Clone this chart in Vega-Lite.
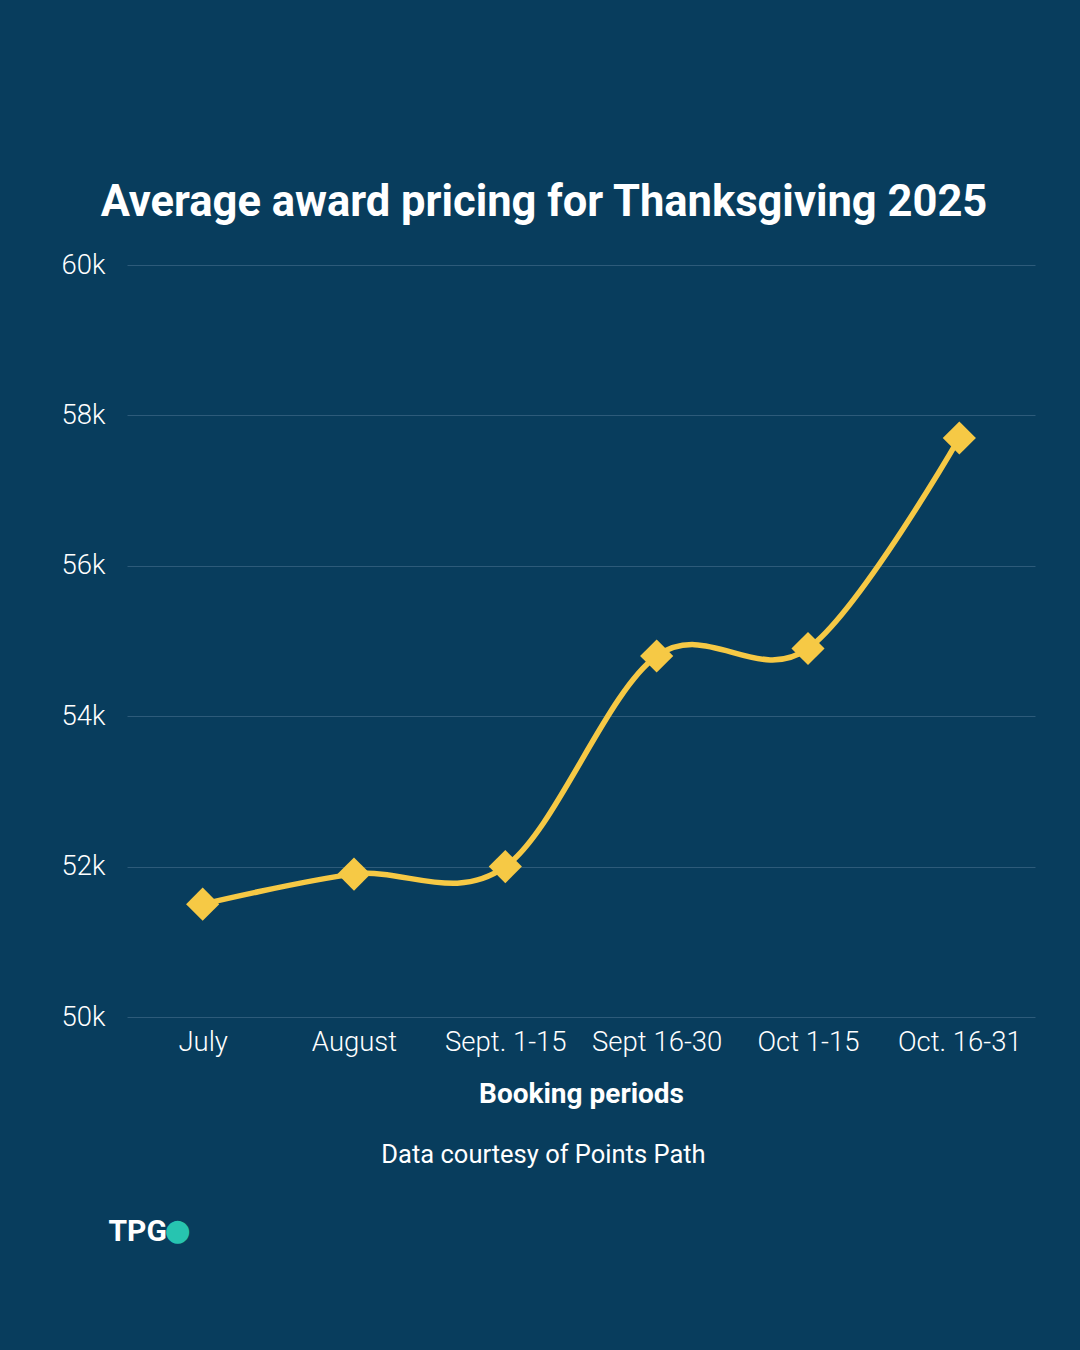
{
  "$schema": "https://vega.github.io/schema/vega-lite/v6.json",
  "autosize": "none",
  "width": 908,
  "height": 752,
  "padding": {"left": 127, "top": 265, "right": 45, "bottom": 333},
  "background": "#083d5d",
  "title": {
    "text": "Average award pricing for Thanksgiving 2025",
    "anchor": "middle",
    "dx": -37,
    "offset": 26,
    "fontSize": 43.5,
    "fontWeight": "bold",
    "font": "Roboto",
    "color": "#ffffff"
  },
  "data": {
    "values": [
      {"period": "July", "points": 51500},
      {"period": "August", "points": 51900},
      {"period": "Sept. 1-15", "points": 52000},
      {"period": "Sept 16-30", "points": 54800},
      {"period": "Oct 1-15", "points": 54900},
      {"period": "Oct. 16-31", "points": 57700}
    ]
  },
  "layer": [
    {
      "mark": {"type": "line", "interpolate": "cardinal", "color": "#f6c945", "strokeWidth": 5.5},
      "encoding": {
        "x": {
          "field": "period",
          "type": "ordinal",
          "sort": null,
          "scale": {"type": "point", "padding": 0.5},
          "axis": {
            "orient": "bottom",
            "title": "Booking periods",
            "labelAngle": 0,
            "labelPadding": 11,
            "titlePadding": 25
          }
        },
        "y": {
          "field": "points",
          "type": "quantitative",
          "scale": {"domain": [50000, 60000], "nice": false, "zero": false},
          "axis": {
            "orient": "left",
            "values": [50000, 52000, 54000, 56000, 58000, 60000],
            "format": "~s",
            "grid": true,
            "labelPadding": 22,
            "labelFontSize": 27.5,
            "title": "●",
            "titleColor": "#27c4b0",
            "titleFontSize": 30,
            "titleFontWeight": "normal",
            "titleFont": "DejaVu Sans",
            "titleAngle": 0,
            "titleAlign": "center",
            "titleBaseline": "middle",
            "titleX": 50,
            "titleY": 965
          }
        }
      }
    },
    {
      "mark": {"type": "point", "shape": "diamond", "filled": true, "color": "#f6c945", "size": 1100, "opacity": 1},
      "encoding": {
        "x": {
          "field": "period",
          "type": "ordinal",
          "sort": null,
          "scale": {"type": "point", "padding": 0.5},
          "axis": {
            "orient": "bottom",
            "labels": false,
            "ticks": false,
            "domain": false,
            "grid": false,
            "title": "Data courtesy of Points Path",
            "titleFontWeight": "normal",
            "titleFontSize": 25.5,
            "titleX": 416,
            "titleY": 145,
            "titleAlign": "center",
            "titleBaseline": "alphabetic"
          }
        },
        "y": {
          "field": "points",
          "type": "quantitative",
          "scale": {"domain": [50000, 60000], "nice": false, "zero": false},
          "axis": {
            "orient": "left",
            "labels": false,
            "ticks": false,
            "domain": false,
            "grid": false,
            "title": "TPG",
            "titleFontSize": 30,
            "titleFontWeight": "bold",
            "titleAngle": 0,
            "titleAlign": "left",
            "titleBaseline": "alphabetic",
            "titleX": -19,
            "titleY": 975
          }
        }
      }
    }
  ],
  "resolve": {"axis": {"x": "independent", "y": "independent"}},
  "config": {
    "view": {"stroke": null},
    "axis": {
      "labelFont": "Roboto",
      "titleFont": "Roboto",
      "labelColor": "#ffffff",
      "titleColor": "#ffffff",
      "labelFontSize": 27.5,
      "labelFontWeight": 300,
      "titleFontSize": 28,
      "titleFontWeight": "bold",
      "gridColor": "#2d5b7a",
      "gridWidth": 1.2,
      "domain": false,
      "ticks": false
    }
  }
}
